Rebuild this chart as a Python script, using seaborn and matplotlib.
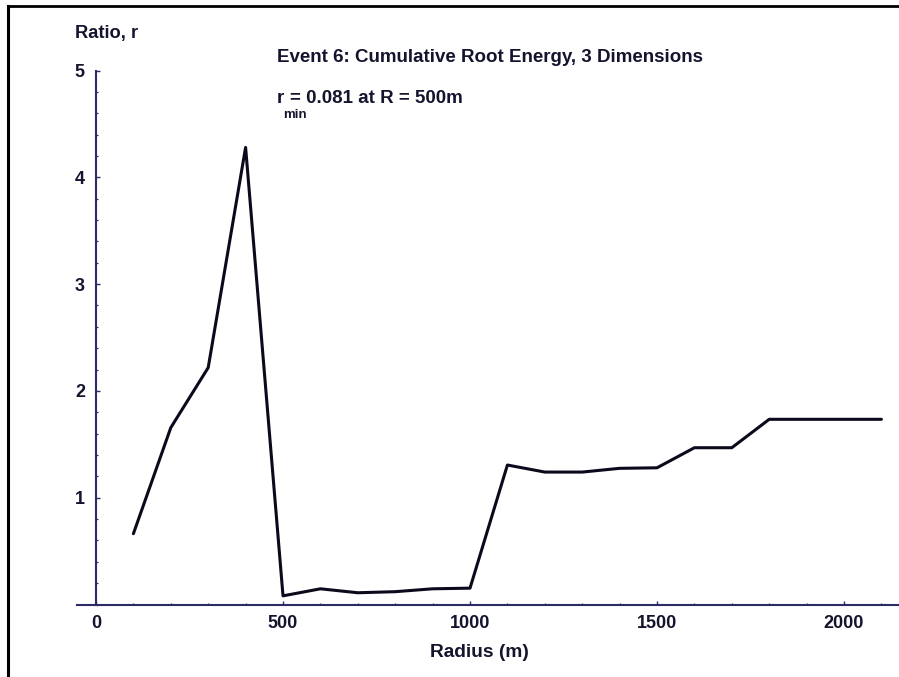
import matplotlib
matplotlib.use("Agg")
import matplotlib.pyplot as plt
import seaborn as sns
import pandas as pd
from matplotlib.lines import Line2D
from matplotlib.ticker import MultipleLocator, FixedLocator

# ---- data ----
radius = [100, 200, 300, 400, 500, 600, 700, 800, 900, 1000, 1100,
          1200, 1300, 1400, 1500, 1600, 1700, 1800, 1900, 2000, 2100]
ratio = [0.663, 1.656, 2.218, 4.28, 0.081, 0.147, 0.11, 0.12, 0.147, 0.153,
         1.306, 1.24, 1.24, 1.275, 1.28, 1.468, 1.468, 1.734, 1.734, 1.734, 1.734]
x_ticks = [0, 500, 1000, 1500, 2000]
y_ticks = [1, 2, 3, 4, 5]
title_text = "Event 6: Cumulative Root Energy, 3 Dimensions"
x_label = "Radius (m)"
y_label = "Ratio, r"
note_main = "= 0.081 at R = 500m"

df = pd.DataFrame({"radius": radius, "ratio": ratio})

sns.set_theme(style="white")
plt.rcParams['font.family'] = ['Liberation Sans', 'DejaVu Sans']
plt.rcParams['font.weight'] = 'bold'

W, H = 899, 677
fig = plt.figure(figsize=(W / 100, H / 100), dpi=100)
fig.patch.set_facecolor('white')

ax = fig.add_axes([77 / W, (H - 604.5) / H, 822 / W, 534 / H])
ax.set_facecolor('white')

line_col = '#0a0a1c'
axis_col = '#2b2b66'
text_col = '#14142e'

sns.lineplot(data=df, x="radius", y="ratio", ax=ax, color=line_col,
             linewidth=2.2, clip_on=False)

ax.set_xlim(-50.8, 2147)
ax.set_ylim(0, 5)

for s in ['top', 'right']:
    ax.spines[s].set_visible(False)
ax.spines['left'].set_position(('data', 0))
ax.spines['left'].set_bounds(0, 5)
ax.spines['bottom'].set_position(('data', 0))
for s in ['left', 'bottom']:
    ax.spines[s].set_color(axis_col)
    ax.spines[s].set_linewidth(1.5)

ax.xaxis.set_major_locator(FixedLocator(x_ticks))
ax.yaxis.set_major_locator(FixedLocator(y_ticks))
ax.xaxis.set_minor_locator(MultipleLocator(100))
ax.yaxis.set_minor_locator(MultipleLocator(0.2))

ax.tick_params(axis='both', which='major', direction='in', length=3.0,
               width=1.0, color=axis_col, labelsize=13, labelcolor=text_col)
ax.tick_params(axis='both', which='minor', direction='in', length=1.5,
               width=0.9, color=axis_col)
ax.tick_params(axis='x', which='major', pad=7.5)
ax.tick_params(axis='y', which='major', pad=8)
ax.tick_params(left=True, bottom=True, which='both')
for lab in ax.get_xticklabels() + ax.get_yticklabels():
    lab.set_fontweight('bold')

ax.set_xlabel("")
ax.set_ylabel("")
ax.grid(False)

# texts
fig.text(75 / W, 1 - 38 / H, y_label, fontsize=13.2, fontweight='bold',
         color=text_col, ha='left', va='baseline')
fig.text(277 / W, 1 - 61.5 / H, title_text, fontsize=13.5, fontweight='bold',
         color=text_col, ha='left', va='baseline')
fig.text(277 / W, 1 - 103 / H, "r", fontsize=13.5, fontweight='bold',
         color=text_col, ha='left', va='baseline')
fig.text(283 / W, 1 - 118 / H, "min", fontsize=9.5, fontweight='bold',
         color=text_col, ha='left', va='baseline')
fig.text(290 / W, 1 - 103 / H, note_main, fontsize=13.5, fontweight='bold',
         color=text_col, ha='left', va='baseline')
fig.text(479 / W, 1 - 657 / H, x_label, fontsize=13.8, fontweight='bold',
         color=text_col, ha='center', va='baseline')

# frame (top and left edges)
fig.add_artist(Line2D([8.3 / W, 8.3 / W], [0, 1 - 5.7 / H],
                      transform=fig.transFigure, color='black', lw=2.2,
                      solid_capstyle='projecting'))
fig.add_artist(Line2D([8.3 / W, 1], [1 - 5.7 / H, 1 - 5.7 / H],
                      transform=fig.transFigure, color='black', lw=2.0,
                      solid_capstyle='projecting'))

fig.savefig("out.png", dpi=100, facecolor='white')
